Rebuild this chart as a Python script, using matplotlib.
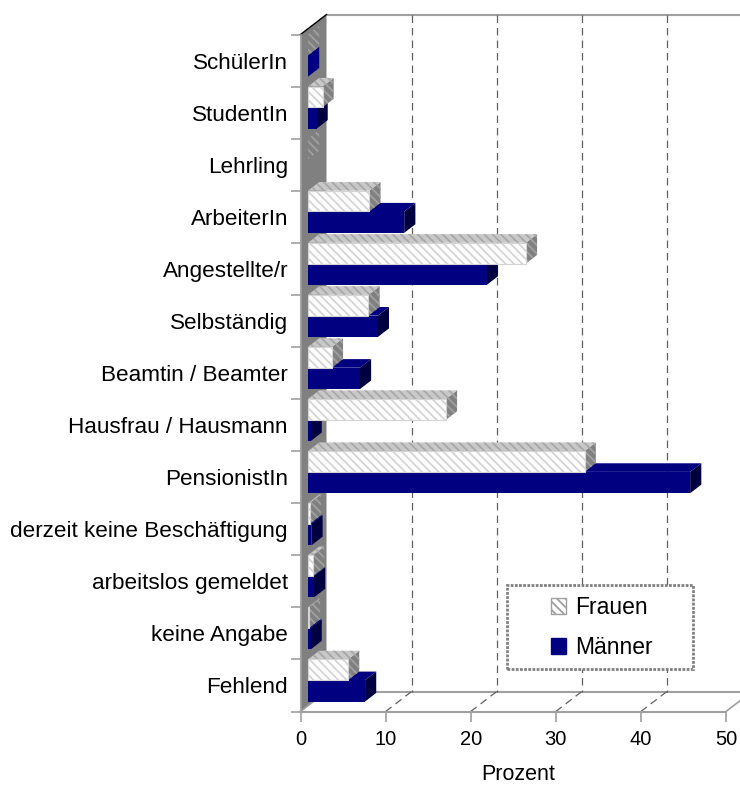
#!/usr/bin/env python3
import matplotlib
matplotlib.use("Agg")
import matplotlib.pyplot as plt
from matplotlib.patches import Patch, Polygon, Rectangle

plt.rcParams["font.family"] = ["Liberation Sans", "DejaVu Sans"]
plt.rcParams["hatch.linewidth"] = 1.3

categories = [
    "SchülerIn", "StudentIn", "Lehrling", "ArbeiterIn", "Angestellte/r",
    "Selbständig", "Beamtin / Beamter", "Hausfrau / Hausmann", "PensionistIn",
    "derzeit keine Beschäftigung", "arbeitslos gemeldet", "keine Angabe", "Fehlend",
]
frauen = [0, 1.7, 0, 7.2, 25.6, 7.1, 2.8, 16.2, 32.5, 0.2, 0.6, 0.1, 4.7]
maenner = [0, 1.0, None, 11.3, 21.0, 8.2, 6.1, 0.3, 44.9, 0.4, 0.7, 0.3, 6.7]
x_ticks = [0, 10, 20, 30, 40, 50]

W, H = 740, 786
NAVY = "#000080"
NAVY_DARK = "#000040"
GREY = "#808080"
LINE = "#a0a0a0"

fig = plt.figure(figsize=(W / 100, H / 100), dpi=100)
ax = fig.add_axes([300.5 / W, (H - 711.5) / H, 425.5 / W, 677.0 / H])
ax.set_xlim(0, 50)
ax.set_ylim(13, 0)

# oblique projection, depth 1 is the back wall
DX = 26 / 8.51
DY = 20 / 52.08
D0, D1 = 0.29, 0.72


def proj(v, c, d):
    return (v + d * DX, c - d * DY)


def poly(pts, **kw):
    kw.setdefault("lw", 0)
    ax.add_patch(Polygon(pts, closed=True, clip_on=False, **kw))


def bar(c0, c1, v, face, top, side):
    # side, top, then front face
    poly([proj(v, c0, D0), proj(v, c0, D1), proj(v, c1, D1), proj(v, c1, D0)], **side)
    poly([proj(0, c0, D0), proj(0, c0, D1), proj(v, c0, D1), proj(v, c0, D0)], **top)
    if v > 0:
        poly([proj(0, c0, D0), proj(v, c0, D0), proj(v, c1, D0), proj(0, c1, D0)], **face)


# left wall
poly([proj(0, 0, 0), proj(0, 0, 1), proj(0, 13, 1), proj(0, 13, 0)], facecolor=GREY, zorder=1)
ax.plot(*zip(proj(0, 0, 0), proj(0, 0, 1)), color="black", lw=1, clip_on=False, zorder=2)

# back wall and floor edges
ax.plot(*zip(proj(0, 0, 1), proj(55, 0, 1)), color=LINE, lw=1.5, clip_on=False, zorder=1)
ax.plot(*zip(proj(0, 13, 1), proj(55, 13, 1)), color=LINE, lw=1.5, clip_on=False, zorder=1)
ax.plot(*zip(proj(50, 13, 0), proj(50, 13, 1)), color=LINE, lw=1.2, clip_on=False, zorder=1)
ax.plot(*zip(proj(0, 13, 0), proj(0, 13, 1)), color=LINE, lw=1.2, clip_on=False, zorder=2)

for t in x_ticks[1:-1]:
    ax.plot(*zip(proj(t, 0, 1), proj(t, 13, 1)), color="#606060", lw=0.9, ls=(0, (6, 4)), clip_on=False, zorder=1)
    ax.plot(*zip(proj(t, 13, 0), proj(t, 13, 1)), color="#606060", lw=0.9, ls=(0, (6, 4)), clip_on=False, zorder=1)

f_face = dict(facecolor="white", edgecolor="#d4d4d4", hatch="\\\\\\\\", lw=0.8, zorder=3)
f_top = dict(facecolor="#c8c8c8", edgecolor="#a8a8a8", hatch="\\\\\\\\", zorder=3)
f_side = dict(facecolor=GREY, edgecolor="#a0a0a0", hatch="\\\\\\\\", zorder=3)
m_face = dict(facecolor=NAVY, zorder=3)
m_top = dict(facecolor=NAVY, zorder=3)
m_side = dict(facecolor=NAVY_DARK, zorder=3)

# lower rows first, the Frauen box sits on the Männer box
for i in reversed(range(len(categories))):
    if maenner[i] is not None:
        side = dict(facecolor=NAVY, zorder=3) if maenner[i] == 0 else m_side
        bar(i + 0.51, i + 0.92, maenner[i], m_face, m_top, side)
    if frauen[i] is not None:
        bar(i + 0.11, i + 0.51, frauen[i], f_face, f_top, f_side)

for s in ["top", "right"]:
    ax.spines[s].set_visible(False)
ax.spines["bottom"].set_color(LINE)
ax.spines["bottom"].set_linewidth(1.5)
ax.spines["left"].set_color(LINE)
ax.spines["left"].set_linewidth(1.2)

ax.set_xticks(x_ticks)
ax.set_yticks(range(len(categories) + 1))
ax.set_yticklabels([])
ax.set_yticks([i + 0.5 for i in range(len(categories))], labels=categories, minor=True)
ax.tick_params(axis="y", which="major", length=7, color=LINE, width=1.2)
ax.tick_params(axis="y", which="minor", length=0, pad=9, labelsize=16.2)
ax.tick_params(axis="x", length=7, color=LINE, width=1.2, labelsize=14.5, pad=6)
ax.set_xlabel("Prozent", fontsize=15.5, labelpad=11, x=(518 - 300.5) / 425.5)

ax.add_patch(Rectangle(
    ((507 - 300.5) / 425.5, (711.5 - 669) / 677), 186 / 425.5, 84 / 677,
    transform=ax.transAxes, facecolor="white", edgecolor="#808080",
    lw=2, ls=(0, (1, 0.5)), zorder=5,
))
leg = ax.legend(
    handles=[
        Patch(facecolor="white", edgecolor="#a0a0a0", hatch="\\\\\\\\", label="Frauen"),
        Patch(facecolor=NAVY, edgecolor=NAVY, label="Männer"),
    ],
    loc="center",
    bbox_to_anchor=((602 - 300.5) / 425.5, (711.5 - 627.5) / 677),
    fontsize=16.5,
    frameon=False,
    handlelength=0.68,
    handleheight=0.7,
    handletextpad=0.4,
    labelspacing=0.75,
    borderpad=0,
)
leg.set_zorder(6)

fig.savefig("out.png", dpi=100)
